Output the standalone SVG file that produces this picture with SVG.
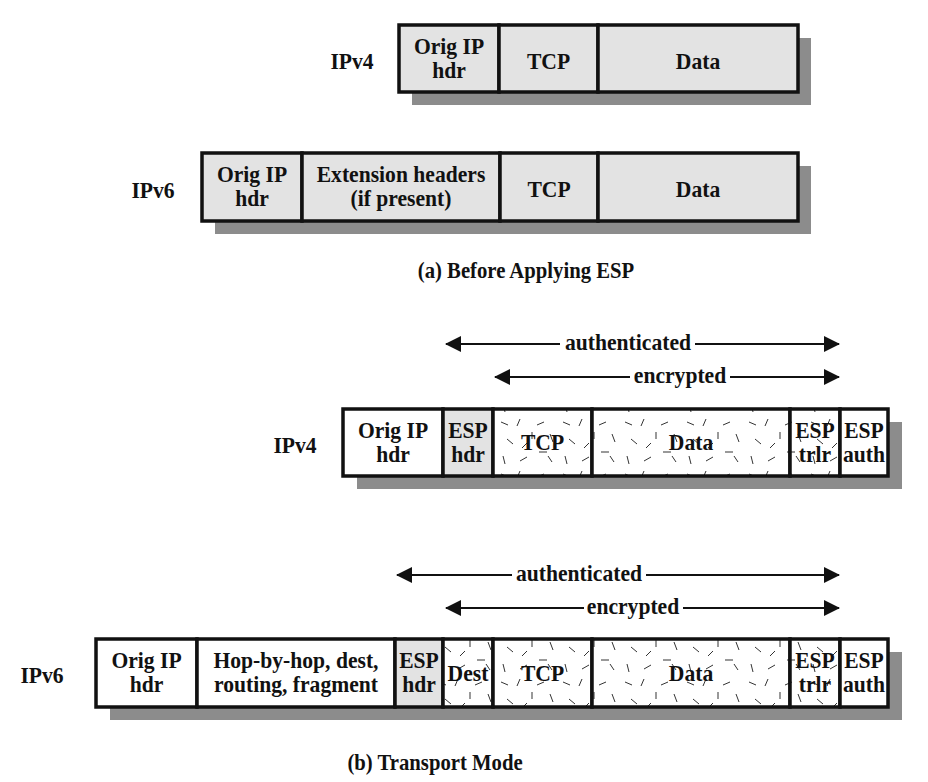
<svg xmlns="http://www.w3.org/2000/svg" width="928" height="782" viewBox="0 0 928 782">
<style>
text{font-family:"Liberation Serif","Times New Roman",serif;font-weight:bold;font-size:24px;text-anchor:middle;fill:#111;transform-box:fill-box;transform-origin:center;transform:scaleX(0.9)}
.cap{font-size:23px}
.cell{stroke:#111;stroke-width:3.5}
.g{fill:#e3e3e3}
.w{fill:#ffffff}
.tx{fill:url(#speckle)}
.sh{fill:#8c8c8c}
.ln{stroke:#111;stroke-width:2;fill:none}
</style>
<defs>
<pattern id="speckle" width="62" height="52" patternUnits="userSpaceOnUse">
<rect width="62" height="52" fill="#fff"/>
<path d="M5 6 l7 3 M24 3 l-3 7 M41 9 l7 -3 M54 18 l3 8 M11 23 l6 5 M31 27 l-5 5 M43 36 l8 0 M7 40 l2 8 M24 45 l7 -4 M56 46 l-4 -6 M36 16 l0 7" stroke="#333" stroke-width="1"/>
</pattern>
<marker id="ah" markerUnits="userSpaceOnUse" markerWidth="16" markerHeight="18" refX="15" refY="8" orient="auto-start-reverse" viewBox="0 0 16 16">
<path d="M0 0 L16 8 L0 16 Z" fill="#111"/>
</marker>
</defs>

<!-- shadows -->
<g id="shadows">
<rect class="sh" x="412" y="38" width="399" height="67"/>
<rect class="sh" x="215" y="166" width="596" height="68"/>
<rect class="sh" x="357" y="422" width="545" height="67"/>
<rect class="sh" x="110" y="652" width="792" height="68"/>
</g>

<!-- (a) IPv4 -->
<g id="a-ipv4">
<text x="352" y="69">IPv4</text>
<g id="a4-orig"><rect class="cell g" x="399" y="25" width="100" height="67"/><text x="449" y="54">Orig IP</text><text x="449" y="78">hdr</text></g>
<g id="a4-tcp"><rect class="cell g" x="499" y="25" width="99" height="67"/><text x="548.5" y="69">TCP</text></g>
<g id="a4-data"><rect class="cell g" x="598" y="25" width="200" height="67"/><text x="698" y="69">Data</text></g>
</g>

<!-- (a) IPv6 -->
<g id="a-ipv6">
<text x="153" y="198">IPv6</text>
<g id="a6-orig"><rect class="cell g" x="202" y="153" width="100" height="68"/><text x="252" y="182">Orig IP</text><text x="252" y="206">hdr</text></g>
<g id="a6-ext"><rect class="cell g" x="302" y="153" width="198" height="68"/><text x="401" y="182">Extension headers</text><text x="401" y="206">(if present)</text></g>
<g id="a6-tcp"><rect class="cell g" x="500" y="153" width="98" height="68"/><text x="549" y="197">TCP</text></g>
<g id="a6-data"><rect class="cell g" x="598" y="153" width="200" height="68"/><text x="698" y="197">Data</text></g>
</g>

<text class="cap" x="526" y="278">(a) Before Applying ESP</text>

<!-- (b) IPv4 -->
<g id="b-ipv4">
<text x="295" y="453">IPv4</text>
<g id="b4-orig"><rect class="cell w" x="343" y="409" width="100" height="67"/><text x="393" y="438">Orig IP</text><text x="393" y="462">hdr</text></g>
<g id="b4-esphdr"><rect class="cell g" x="443" y="409" width="50" height="67"/><text x="468" y="438">ESP</text><text x="468" y="462">hdr</text></g>
<g id="b4-tcp"><rect class="cell tx" x="493" y="409" width="99" height="67"/><text x="542.5" y="450">TCP</text></g>
<g id="b4-data"><rect class="cell tx" x="592" y="409" width="198" height="67"/><text x="691" y="450">Data</text></g>
<g id="b4-esptrlr"><rect class="cell tx" x="790" y="409" width="50" height="67"/><text x="815" y="438">ESP</text><text x="815" y="462">trlr</text></g>
<g id="b4-espauth"><rect class="cell w" x="840" y="409" width="48" height="67"/><text x="864" y="438">ESP</text><text x="864" y="462">auth</text></g>
</g>

<!-- (b) IPv6 -->
<g id="b-ipv6">
<text x="42" y="683">IPv6</text>
<g id="b6-orig"><rect class="cell w" x="96" y="639" width="101" height="68"/><text x="146.5" y="668">Orig IP</text><text x="146.5" y="692">hdr</text></g>
<g id="b6-ext"><rect class="cell w" x="197" y="639" width="198" height="68"/><text x="296" y="668">Hop-by-hop, dest,</text><text x="296" y="692">routing, fragment</text></g>
<g id="b6-esphdr"><rect class="cell g" x="395" y="639" width="48" height="68"/><text x="419" y="668">ESP</text><text x="419" y="692">hdr</text></g>
<g id="b6-dest"><rect class="cell tx" x="443" y="639" width="50" height="68"/><text x="468" y="681">Dest</text></g>
<g id="b6-tcp"><rect class="cell tx" x="493" y="639" width="99" height="68"/><text x="542.5" y="681">TCP</text></g>
<g id="b6-data"><rect class="cell tx" x="592" y="639" width="198" height="68"/><text x="691" y="681">Data</text></g>
<g id="b6-esptrlr"><rect class="cell tx" x="790" y="639" width="50" height="68"/><text x="815" y="668">ESP</text><text x="815" y="692">trlr</text></g>
<g id="b6-espauth"><rect class="cell w" x="840" y="639" width="48" height="68"/><text x="864" y="668">ESP</text><text x="864" y="692">auth</text></g>
</g>

<text class="cap" x="435" y="770">(b) Transport Mode</text>

<!-- connectors -->
<g id="connectors">
<path class="ln" d="M560 344 H446" marker-end="url(#ah)"/>
<path class="ln" d="M695 344 H839" marker-end="url(#ah)"/>
<path class="ln" d="M630 377 H495" marker-end="url(#ah)"/>
<path class="ln" d="M730 377 H839" marker-end="url(#ah)"/>
<path class="ln" d="M512 575 H397" marker-end="url(#ah)"/>
<path class="ln" d="M646 575 H839" marker-end="url(#ah)"/>
<path class="ln" d="M584 608 H446" marker-end="url(#ah)"/>
<path class="ln" d="M683 608 H839" marker-end="url(#ah)"/>
</g>
<g id="arrow-labels">
<text x="628" y="350">authenticated</text>
<text x="680" y="383">encrypted</text>
<text x="579" y="581">authenticated</text>
<text x="633" y="614">encrypted</text>
</g>
</svg>
